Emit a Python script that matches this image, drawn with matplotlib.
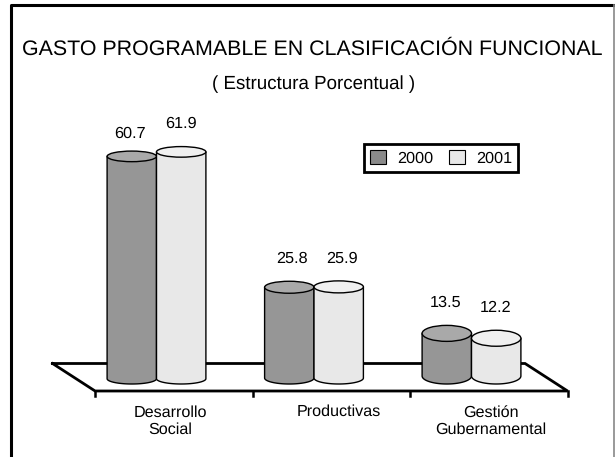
import numpy as np
import matplotlib
matplotlib.use("Agg")
import matplotlib.pyplot as plt
from matplotlib.patches import Polygon, Ellipse, Patch
from matplotlib.lines import Line2D

plt.rcParams['font.family'] = ['Liberation Sans', 'DejaVu Sans']
plt.rcParams['text.hinting'] = 'no_hinting'

categories = ["Desarrollo\nSocial", "Productivas", "Gestión\nGubernamental"]
years = ["2000", "2001"]
values_2000 = [60.7, 25.8, 13.5]
values_2001 = [61.9, 25.9, 12.2]
title = "GASTO PROGRAMABLE EN CLASIFICACIÓN FUNCIONAL"
subtitle = "( Estructura Porcentual )"

W, H = 615, 457
PX_X = 157.5      # pixels per category
PX_Y = 3.75       # pixels per percentage point
X0, Y0 = 156.5, 384.0  # pixel of category 0 / value 0

fig = plt.figure(figsize=(W / 100, H / 100), dpi=100, facecolor="white")
ax = fig.add_axes([0, 0, 1, 1])
ax.set_xlim(-X0 / PX_X, (W - X0) / PX_X)
ax.set_ylim(-(H - Y0) / PX_Y, Y0 / PX_Y)
ax.axis("off")

def dx(px):
    return px / PX_X
def dy(px):
    return px / PX_Y

# floor
floor_back, floor_front = dy(20.5), dy(-7)
ax.add_line(Line2D([-0.66, 2.34, 2.61, -0.39, -0.66],
                   [floor_back, floor_back, floor_front, floor_front, floor_back],
                   color="black", lw=2.0, solid_joinstyle="miter", zorder=1))
for t in [-0.39, 0.61, 1.61, 2.61]:
    ax.add_line(Line2D([t, t], [floor_front, floor_front - dy(5)], color="black", lw=1.8, zorder=1))

def cylinder(xc, v, ry_px, body, top, z):
    rx = dx(24.7)
    ry = dy(ry_px)
    theta = np.linspace(np.pi, 2 * np.pi, 60)
    bottom = ry
    xs = np.concatenate([xc + rx * np.cos(theta), [xc + rx, xc - rx]])
    ys = np.concatenate([bottom + ry * np.sin(theta), [v, v]])
    ax.add_patch(Polygon(np.column_stack([xs, ys]), closed=True, facecolor=body,
                         edgecolor="black", lw=1.0, zorder=z))
    ax.add_patch(Ellipse((xc, v), 2 * rx, 2 * ry, facecolor=top,
                         edgecolor="black", lw=1.0, zorder=z + 0.1))

ry_by_group = [5.3, 6.0, 8.0]
label_y = [-37.5, -28, -37.5]
label_dx = [14, 25, 19]
lab_off_2000 = [(-1.5, 23), (3, 29), (-1.5, 31)]
lab_off_2001 = [(0, 28), (3.5, 28), (-1, 30)]
off = dx(24.7)
for i in range(3):
    cylinder(i - off, values_2000[i], ry_by_group[i], "#969696", "#a9a9a9", 3)
    cylinder(i + off, values_2001[i], ry_by_group[i], "#e8e8e8", "#f0f0f0", 4)
    ax.text(i - off + dx(lab_off_2000[i][0]), values_2000[i] + dy(lab_off_2000[i][1]),
            f"{values_2000[i]:.1f}", ha="center", va="center", fontsize=11.7)
    ax.text(i + off + dx(lab_off_2001[i][0]), values_2001[i] + dy(lab_off_2001[i][1]),
            f"{values_2001[i]:.1f}", ha="center", va="center", fontsize=11.7)
    ax.text(i + dx(label_dx[i]), dy(label_y[i]), categories[i], ha="center", va="center",
            fontsize=11.6, linespacing=1.15)

# frame
ax.add_line(Line2D([dx(11 - X0)] * 2 + [dx(614 - X0)],
                   [dy(Y0 - 457), dy(Y0 - 5), dy(Y0 - 5)], color="black", lw=2.2, zorder=6))
ax.add_line(Line2D([dx(614 - X0)] * 2, [dy(Y0 - 5), dy(Y0 - 457)], color="#888888", lw=1.2, zorder=6))

# titles
ax.text(dx(312.5 - X0), dy(Y0 - 49), title, ha="center", va="center", fontsize=15.42)
ax.text(dx(313.5 - X0), dy(Y0 - 84), subtitle, ha="center", va="center", fontsize=13.5)

handles = [Patch(facecolor="#8a8a8a", edgecolor="black", lw=0.8),
           Patch(facecolor="#e8e8e8", edgecolor="black", lw=0.8)]
leg = ax.legend(handles, years, ncol=2, fontsize=11.7, frameon=True, fancybox=False,
                framealpha=1, edgecolor="black", handlelength=1.0, handleheight=1.0,
                columnspacing=1.0, handletextpad=0.65, borderpad=0.38,
                loc="center", bbox_to_anchor=(441 / W, 1 - 158 / H),
                bbox_transform=fig.transFigure)
leg.get_frame().set_linewidth(2)
leg.set_zorder(7)

fig.savefig("out.png", dpi=100)
